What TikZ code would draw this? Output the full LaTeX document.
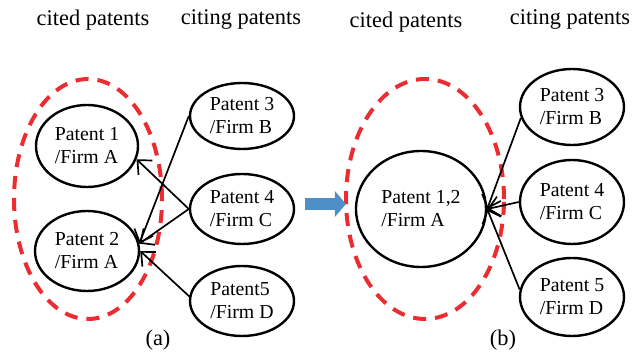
\documentclass[tikz,border=0pt]{standalone}
\usepackage{fontspec}
\setmainfont{Liberation Serif}
\usetikzlibrary{shapes.geometric}
\usetikzlibrary{arrows.meta}
\definecolor{groupred}{RGB}{235,45,50}
\definecolor{mergeblue}{RGB}{79,143,200}
\tikzset{
    patent/.style = {ellipse, draw, line width=1.2pt, inner sep=0pt, align=left,
        font=\fontsize{9.9}{11.5}\selectfont},
    group/.style = {ellipse, draw=groupred, line width=2pt, inner sep=0pt,
        dash pattern=on 6.5pt off 4.5pt},
    cites/.style = {-{Straight Barb[length=5.5pt,width=10pt]}, line width=0.85pt},
    heading/.style = {font=\fontsize{11.2}{13}\selectfont},
}
\begin{document}
\begin{tikzpicture}[x=0.5pt, y=-0.5pt]
        \useasboundingbox (0,0) rectangle (634,358);

        % headings
        \node[heading] (hcited) at (93, 20) {cited patents};
        \node[heading] (hciting) at (241, 20) {citing patents};
        \node[heading] (hcitedb) at (406, 22) {cited patents};
        \node[heading] (hcitingb) at (570, 20) {citing patents};

        % (a) before merging
        \node[group, minimum width=74pt, minimum height=120pt] (grpa) at (88, 199) {};
        \node[patent, minimum width=51pt, minimum height=41pt] (p1) at (87, 146) {Patent 1\\/Firm A};
        \node[patent, minimum width=52pt, minimum height=40pt] (p2) at (87, 251) {Patent 2\\/Firm A};
        \node[patent, minimum width=52pt, minimum height=33pt] (p3) at (242, 116) {Patent 3\\/Firm B};
        \node[patent, minimum width=52pt, minimum height=35pt] (p4) at (242, 209) {Patent 4\\/Firm C};
        \node[patent, minimum width=52pt, minimum height=35pt] (p5) at (242, 301) {Patent5\\/Firm D};

        \draw[cites] (p3.west) -- (p2.8);
        \draw[cites] (p4.west) -- (p1.-15);
        \draw[cites] (p4.west) -- (p2.8);
        \draw[cites] (p5.175) -- (p2.east);

        \node[heading] (la) at (158, 340) {(a)};

        % merge arrow
        \coordinate (mstart) at (305, 204);
        \coordinate (mend) at (346, 204);

        % (b) after merging
        \node[group, minimum width=79pt, minimum height=120pt] (grpb) at (425, 199) {};
        \node[patent, minimum width=65pt, minimum height=58pt] (p12) at (421, 209) {Patent 1,2\\/Firm A};
        \node[patent, minimum width=52pt, minimum height=38pt] (q3) at (572, 107) {Patent 3\\/Firm B};
        \node[patent, minimum width=52pt, minimum height=42pt] (q4) at (572, 202) {Patent 4\\/Firm C};
        \node[patent, minimum width=52pt, minimum height=39pt] (q5) at (572, 297) {Patent 5\\/Firm D};

        \draw[cites] (q3.-168) -- (p12.east);
        \draw[cites] (q4.west) -- (p12.east);
        \draw[cites] (q5.172) -- (p12.east);

        \draw[mergeblue, line width=6pt, -{Triangle[length=5.5pt,width=12.5pt]}] (mstart) -- (mend);

        \node[heading] (lb) at (503, 340) {(b)};
\end{tikzpicture}
\end{document}
